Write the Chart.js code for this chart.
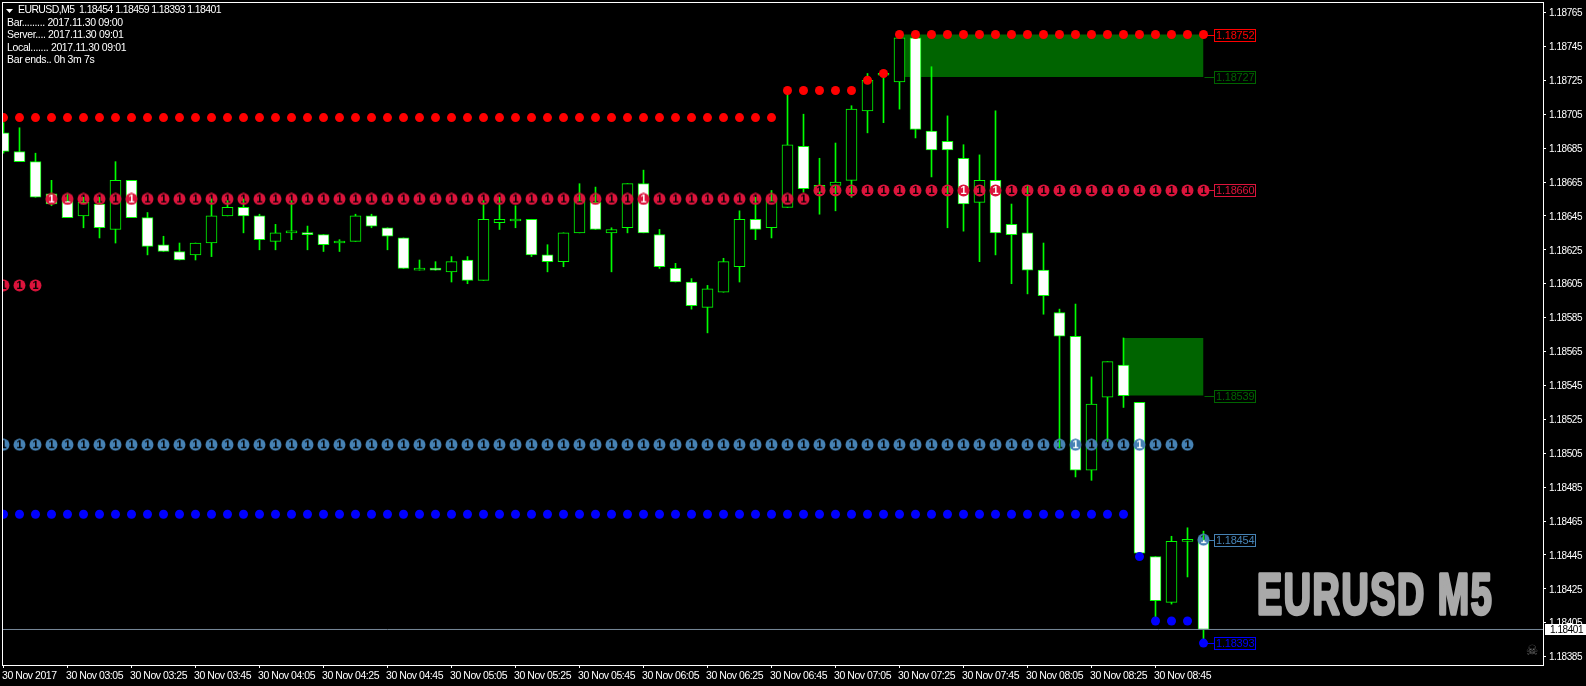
<!DOCTYPE html>
<html>
<head>
<meta charset="utf-8">
<style>
    html, body { margin: 0; padding: 0; background: #000; overflow: hidden; }
    canvas { display: block; }
</style>
<script src="https://cdn.jsdelivr.net/npm/chart.js@4"></script>
</head>
<body>
<canvas id="priceChart" width="1586" height="686"></canvas>
<script>
// Candle values, one per bar (02:45 to 09:00)
const opens = [1.18694,1.18683,1.18677,1.18658,1.18654,1.18645,1.18652,1.18637,1.18666,1.18644,1.18628,1.18624,1.18622,1.18629,1.18645,1.18650,1.18645,1.18630,1.18635,1.18635,1.18634,1.18629,1.18630,1.18645,1.18638,1.18632,1.18613,1.18614,1.18612,1.18619,1.18607,1.18641,1.18642,1.18643,1.18622,1.18618,1.18635,1.18653,1.18635,1.18638,1.18664,1.18634,1.18614,1.18606,1.18591,1.18600,1.18615,1.18643,1.18638,1.18650,1.18686,1.18659,1.18663,1.18666,1.18707,1.18728,1.18724,1.18750,1.18695,1.18689,1.18679,1.18653,1.18666,1.18640,1.18635,1.18613,1.18588,1.18574,1.18495,1.18538,1.18557,1.18535,1.18444,1.18417,1.18453,1.18454];
const highs = [1.18700,1.18697,1.18682,1.18666,1.18658,1.18656,1.18656,1.18677,1.18666,1.18647,1.18633,1.18629,1.18629,1.18655,1.18654,1.18655,1.18646,1.18640,1.18654,1.18639,1.18634,1.18631,1.18646,1.18646,1.18638,1.18632,1.18619,1.18618,1.18621,1.18621,1.18654,1.18656,1.18651,1.18643,1.18628,1.18635,1.18664,1.18662,1.18638,1.18664,1.18672,1.18637,1.18617,1.18608,1.18604,1.18620,1.18648,1.18656,1.18660,1.18719,1.18705,1.18679,1.18688,1.18710,1.18729,1.18729,1.18752,1.18752,1.18733,1.18704,1.18687,1.18681,1.18707,1.18652,1.18663,1.18629,1.18590,1.18593,1.18550,1.18559,1.18573,1.18535,1.18444,1.18456,1.18461,1.18459];
const lows = [1.18682,1.18677,1.18656,1.18651,1.18644,1.18638,1.18632,1.18629,1.18644,1.18622,1.18624,1.18619,1.18619,1.18621,1.18645,1.18635,1.18625,1.18625,1.18631,1.18625,1.18624,1.18624,1.18630,1.18638,1.18625,1.18614,1.18613,1.18613,1.18606,1.18605,1.18607,1.18637,1.18638,1.18621,1.18612,1.18615,1.18635,1.18637,1.18612,1.18635,1.18635,1.18614,1.18606,1.18590,1.18576,1.18600,1.18606,1.18631,1.18632,1.18650,1.18659,1.18646,1.18648,1.18656,1.18694,1.18700,1.18708,1.18691,1.18668,1.18638,1.18636,1.18618,1.18622,1.18605,1.18599,1.18587,1.18508,1.18491,1.18489,1.18512,1.18532,1.18446,1.18408,1.18416,1.18432,1.18393];
const closes = [1.18683,1.18677,1.18656,1.18652,1.18644,1.18653,1.18638,1.18666,1.18644,1.18627,1.18624,1.18619,1.18629,1.18645,1.18650,1.18645,1.18631,1.18635,1.18635,1.18634,1.18628,1.18629,1.18645,1.18639,1.18633,1.18614,1.18614,1.18613,1.18618,1.18607,1.18643,1.18643,1.18642,1.18622,1.18618,1.18635,1.18654,1.18637,1.18637,1.18664,1.18635,1.18615,1.18606,1.18592,1.18602,1.18618,1.18643,1.18637,1.18654,1.18687,1.18661,1.18663,1.18665,1.18708,1.18725,1.18728,1.18750,1.18696,1.18684,1.18684,1.18652,1.18666,1.18635,1.18634,1.18613,1.18598,1.18574,1.18495,1.18534,1.18559,1.18539,1.18446,1.18418,1.18453,1.18453,1.18401];

// Support and resistance dots, one per bar
const redDots = [1.18703,1.18703,1.18703,1.18703,1.18703,1.18703,1.18703,1.18703,1.18703,1.18703,1.18703,1.18703,1.18703,1.18703,1.18703,1.18703,1.18703,1.18703,1.18703,1.18703,1.18703,1.18703,1.18703,1.18703,1.18703,1.18703,1.18703,1.18703,1.18703,1.18703,1.18703,1.18703,1.18703,1.18703,1.18703,1.18703,1.18703,1.18703,1.18703,1.18703,1.18703,1.18703,1.18703,1.18703,1.18703,1.18703,1.18703,1.18703,1.18703,1.18719,1.18719,1.18719,1.18719,1.18719,1.18725,1.18729,1.18752,1.18752,1.18752,1.18752,1.18752,1.18752,1.18752,1.18752,1.18752,1.18752,1.18752,1.18752,1.18752,1.18752,1.18752,1.18752,1.18752,1.18752,1.18752,1.18752];
const crimsonDots = [1.18604,1.18604,1.18604,1.18655,1.18655,1.18655,1.18655,1.18655,1.18655,1.18655,1.18655,1.18655,1.18655,1.18655,1.18655,1.18655,1.18655,1.18655,1.18655,1.18655,1.18655,1.18655,1.18655,1.18655,1.18655,1.18655,1.18655,1.18655,1.18655,1.18655,1.18655,1.18655,1.18655,1.18655,1.18655,1.18655,1.18655,1.18655,1.18655,1.18655,1.18655,1.18655,1.18655,1.18655,1.18655,1.18655,1.18655,1.18655,1.18655,1.18655,1.18655,1.18660,1.18660,1.18660,1.18660,1.18660,1.18660,1.18660,1.18660,1.18660,1.18660,1.18660,1.18660,1.18660,1.18660,1.18660,1.18660,1.18660,1.18660,1.18660,1.18660,1.18660,1.18660,1.18660,1.18660,1.18660];
const steelDots = [1.18510,1.18510,1.18510,1.18510,1.18510,1.18510,1.18510,1.18510,1.18510,1.18510,1.18510,1.18510,1.18510,1.18510,1.18510,1.18510,1.18510,1.18510,1.18510,1.18510,1.18510,1.18510,1.18510,1.18510,1.18510,1.18510,1.18510,1.18510,1.18510,1.18510,1.18510,1.18510,1.18510,1.18510,1.18510,1.18510,1.18510,1.18510,1.18510,1.18510,1.18510,1.18510,1.18510,1.18510,1.18510,1.18510,1.18510,1.18510,1.18510,1.18510,1.18510,1.18510,1.18510,1.18510,1.18510,1.18510,1.18510,1.18510,1.18510,1.18510,1.18510,1.18510,1.18510,1.18510,1.18510,1.18510,1.18510,1.18510,1.18510,1.18510,1.18510,1.18510,1.18510,1.18510,1.18510,1.18454];
const blueDots = [1.18469,1.18469,1.18469,1.18469,1.18469,1.18469,1.18469,1.18469,1.18469,1.18469,1.18469,1.18469,1.18469,1.18469,1.18469,1.18469,1.18469,1.18469,1.18469,1.18469,1.18469,1.18469,1.18469,1.18469,1.18469,1.18469,1.18469,1.18469,1.18469,1.18469,1.18469,1.18469,1.18469,1.18469,1.18469,1.18469,1.18469,1.18469,1.18469,1.18469,1.18469,1.18469,1.18469,1.18469,1.18469,1.18469,1.18469,1.18469,1.18469,1.18469,1.18469,1.18469,1.18469,1.18469,1.18469,1.18469,1.18469,1.18469,1.18469,1.18469,1.18469,1.18469,1.18469,1.18469,1.18469,1.18469,1.18469,1.18469,1.18469,1.18469,1.18469,1.18444,1.18406,1.18406,1.18406,1.18393];

// Green zones: first bar, last bar, top price, bottom price
const zoneStarts = [56, 70];
const zoneEnds = [75, 75];
const zoneTops = [1.18752, 1.18573];
const zoneBottoms = [1.18727, 1.18539];

// Price tags right of the last bar
const levelValues = [1.18752, 1.18727, 1.18660, 1.18539, 1.18454, 1.18393];
const levelColors = ['#ff0000', '#006400', '#dc143c', '#006400', '#4682b4', '#0000ff'];

const currentPrice = 1.18401;

// Axis labels
const priceTicks = [1.18765,1.18745,1.18725,1.18705,1.18685,1.18665,1.18645,1.18625,1.18605,1.18585,1.18565,1.18545,1.18525,1.18505,1.18485,1.18465,1.18445,1.18425,1.18405,1.18385];
const timeTickBars = [0,4,8,12,16,20,24,28,32,36,40,44,48,52,56,60,64,68,72];
const timeTickLabels = ['30 Nov 2017','30 Nov 03:05','30 Nov 03:25','30 Nov 03:45','30 Nov 04:05','30 Nov 04:25','30 Nov 04:45','30 Nov 05:05','30 Nov 05:25','30 Nov 05:45','30 Nov 06:05','30 Nov 06:25','30 Nov 06:45','30 Nov 07:05','30 Nov 07:25','30 Nov 07:45','30 Nov 08:05','30 Nov 08:25','30 Nov 08:45'];

// Text in the top left corner
const headerText = 'EURUSD,M5  1.18454 1.18459 1.18393 1.18401';
const infoLines = ['Bar......... 2017.11.30 09:00', 'Server.... 2017.11.30 09:01', 'Local....... 2017.11.30 09:01', 'Bar ends.. 0h 3m 7s'];

const uiFont = '"Liberation Sans", sans-serif';

// Round marker with the "1" cut out, so the candle shows through it
function makeNumberDot(color) {
    const dot = document.createElement('canvas');
    dot.width = 13;
    dot.height = 13;
    const c = dot.getContext('2d');
    c.fillStyle = color;
    c.beginPath();
    c.arc(6.5, 6.5, 6, 0, Math.PI * 2);
    c.fill();
    c.globalCompositeOperation = 'destination-out';
    c.font = 'bold 11px "Liberation Sans"';
    c.textAlign = 'center';
    c.textBaseline = 'middle';
    c.fillText('1', 6.5, 7);
    return dot;
}

function dotDataset(values, style, radius, color) {
    return {
        type: 'line',
        data: values.map((v, i) => ({ x: i, y: v })),
        showLine: false,
        pointStyle: style,
        pointRadius: radius,
        pointBackgroundColor: color,
        pointBorderWidth: 0,
        clip: 0,
        order: 1
    };
}

function zoneDatasets(k) {
    const edge = (price) => [{ x: zoneStarts[k], y: price }, { x: zoneEnds[k], y: price }];
    return [
        { type: 'line', data: edge(zoneTops[k]), pointRadius: 0, borderWidth: 0, order: 10 },
        { type: 'line', data: edge(zoneBottoms[k]), pointRadius: 0, borderWidth: 0, fill: '-1', backgroundColor: '#006400', order: 10 }
    ];
}

// Frame, price tags, header text and the watermark
const overlayPlugin = {
    id: 'overlay',
    beforeDraw(chart) {
        // The screenshot font is narrower than anything installed
        chart.ctx.letterSpacing = '-0.45px';
    },
    beforeDatasetsDraw(chart) {
        const ctx = chart.ctx;
        const y = chart.scales.y;
        const x = chart.scales.x;
        ctx.save();
        ctx.lineWidth = 1;
        levelValues.forEach((v, k) => {
            const py = Math.round(y.getPixelForValue(v)) + 0.5;
            ctx.strokeStyle = levelColors[k];
            ctx.beginPath();
            ctx.moveTo(x.getPixelForValue(75) + 1, py);
            ctx.lineTo(1214, py);
            ctx.stroke();
        });
        ctx.restore();
    },
    afterDatasetsDraw(chart) {
        const ctx = chart.ctx;
        const y = chart.scales.y;
        ctx.save();
        ctx.textBaseline = 'middle';
        ctx.textAlign = 'left';

        // Price tags
        ctx.letterSpacing = '-0.2px';
        ctx.font = '11px "Liberation Sans"';
        levelValues.forEach((v, k) => {
            const py = Math.round(y.getPixelForValue(v)) + 0.5;
            ctx.strokeStyle = levelColors[k];
            ctx.fillStyle = levelColors[k];
            ctx.strokeRect(1214.5, py - 6, 41, 12);
            ctx.fillText(v.toFixed(5), 1216, py + 0.5);
        });

        // Watermark
        ctx.save();
        ctx.letterSpacing = '2.5px';
        ctx.translate(1257, 614);
        ctx.scale(0.66, 1);
        ctx.font = 'bold 57px "Liberation Sans"';
        ctx.textBaseline = 'alphabetic';
        ctx.fillStyle = '#a9a9a9';
        ctx.strokeStyle = '#a9a9a9';
        ctx.lineWidth = 3.5;
        ctx.lineJoin = 'round';
        ctx.fillText('EURUSD M5', 0, 0);
        ctx.strokeText('EURUSD M5', 0, 0);
        ctx.restore();

        // Skull in the corner
        ctx.font = '14px "DejaVu Sans"';
        ctx.textAlign = 'center';
        ctx.fillStyle = '#6a6a6a';
        ctx.fillText('\u2620', 1532, 651);
        ctx.textAlign = 'left';

        // Header and info lines
        ctx.fillStyle = '#ffffff';
        ctx.beginPath();
        ctx.moveTo(6, 9);
        ctx.lineTo(13, 9);
        ctx.lineTo(9.5, 13);
        ctx.fill();
        ctx.font = '10.5px ' + uiFont;
        ctx.letterSpacing = '-0.6px';
        ctx.fillText(headerText, 18, 10.5);
        ctx.letterSpacing = '-0.35px';
        infoLines.forEach((line, k) => {
            ctx.fillText(line, 7, 23.5 + k * 12.1);
        });

        // Chart frame
        ctx.strokeStyle = '#ffffff';
        ctx.lineWidth = 1;
        ctx.strokeRect(2.5, 2.5, 1541, 663);
        ctx.restore();
    },
    afterDraw(chart) {
        // Current price box sits on top of the axis labels
        const ctx = chart.ctx;
        const py = Math.round(chart.scales.y.getPixelForValue(currentPrice) - 0.5);
        ctx.save();
        ctx.fillStyle = '#ffffff';
        ctx.fillRect(1545, py - 5, 41, 11);
        ctx.fillStyle = '#000000';
        ctx.font = '10px ' + uiFont;
        ctx.textBaseline = 'middle';
        ctx.fillText(currentPrice.toFixed(5), 1550, py + 1);
        ctx.restore();
    }
};

document.addEventListener('DOMContentLoaded', function() {
    const ctx = document.getElementById('priceChart').getContext('2d');
    const bars = opens.map((_, i) => i);

    new Chart(ctx, {
        type: 'bar',
        data: {
            datasets: [
                // Zones at the back, then wicks, bodies, price line and dots
                ...zoneDatasets(0),
                ...zoneDatasets(1),
                {
                    data: bars.map(i => ({ x: i, y: [lows[i], highs[i]] })),
                    backgroundColor: '#00ff00',
                    barThickness: 1,
                    grouped: false,
                    order: 9
                },
                {
                    data: bars.map(i => ({ x: i, y: [opens[i], closes[i]] })),
                    backgroundColor: c => closes[c.dataIndex] < opens[c.dataIndex] ? '#ffffff' : '#000000',
                    borderColor: '#00ff00',
                    borderWidth: 1,
                    borderSkipped: false,
                    barThickness: 11,
                    minBarLength: 2,
                    grouped: false,
                    order: 8
                },
                {
                    type: 'line',
                    data: [{ x: -1, y: currentPrice }, { x: 97, y: currentPrice }],
                    borderColor: '#778899',
                    borderWidth: 1,
                    pointRadius: 0,
                    order: 7
                },
                dotDataset(redDots, 'circle', 4.5, '#ff0000'),
                dotDataset(crimsonDots, makeNumberDot('#dc143c'), 6, '#dc143c'),
                dotDataset(steelDots, makeNumberDot('#4682b4'), 6, '#4682b4'),
                dotDataset(blueDots, 'circle', 4.5, '#0000ff')
            ]
        },
        options: {
            responsive: false,
            animation: false,
            layout: { autoPadding: false, padding: { left: 3, top: 3, right: 0, bottom: 0 } },
            plugins: {
                legend: { display: false },
                title: { display: false },
                tooltip: { enabled: false }
            },
            scales: {
                x: {
                    type: 'linear',
                    offset: false,
                    min: -1 / 32,
                    max: 96.21875,
                    afterBuildTicks: axis => { axis.ticks = timeTickBars.map(v => ({ value: v })); },
                    afterFit: axis => {
                        axis.height = 21;
                        axis.paddingLeft = 0;
                        axis.paddingRight = 0;
                    },
                    grid: { offset: false, drawOnChartArea: false, tickColor: '#ffffff', tickLength: 3 },
                    border: { display: false },
                    ticks: {
                        color: '#ffffff',
                        font: { family: uiFont, size: 10.5 },
                        align: 'start',
                        labelOffset: -1.5,
                        padding: 1.5,
                        autoSkip: false,
                        maxRotation: 0,
                        callback: v => timeTickLabels[timeTickBars.indexOf(v)]
                    }
                },
                y: {
                    position: 'right',
                    min: 1.18380055,
                    max: 1.18770605,
                    afterBuildTicks: axis => { axis.ticks = priceTicks.map(v => ({ value: v })); },
                    afterFit: axis => {
                        axis.width = 43;
                        axis.paddingTop = 0;
                        axis.paddingBottom = 0;
                    },
                    grid: { drawOnChartArea: false, tickColor: '#ffffff', tickLength: 3 },
                    border: { display: false },
                    ticks: {
                        color: '#ffffff',
                        font: { family: uiFont, size: 10 },
                        labelOffset: 1,
                        padding: 3,
                        autoSkip: false,
                        callback: v => v.toFixed(5)
                    }
                }
            }
        },
        plugins: [overlayPlugin]
    });
});
</script>
</body>
</html>
